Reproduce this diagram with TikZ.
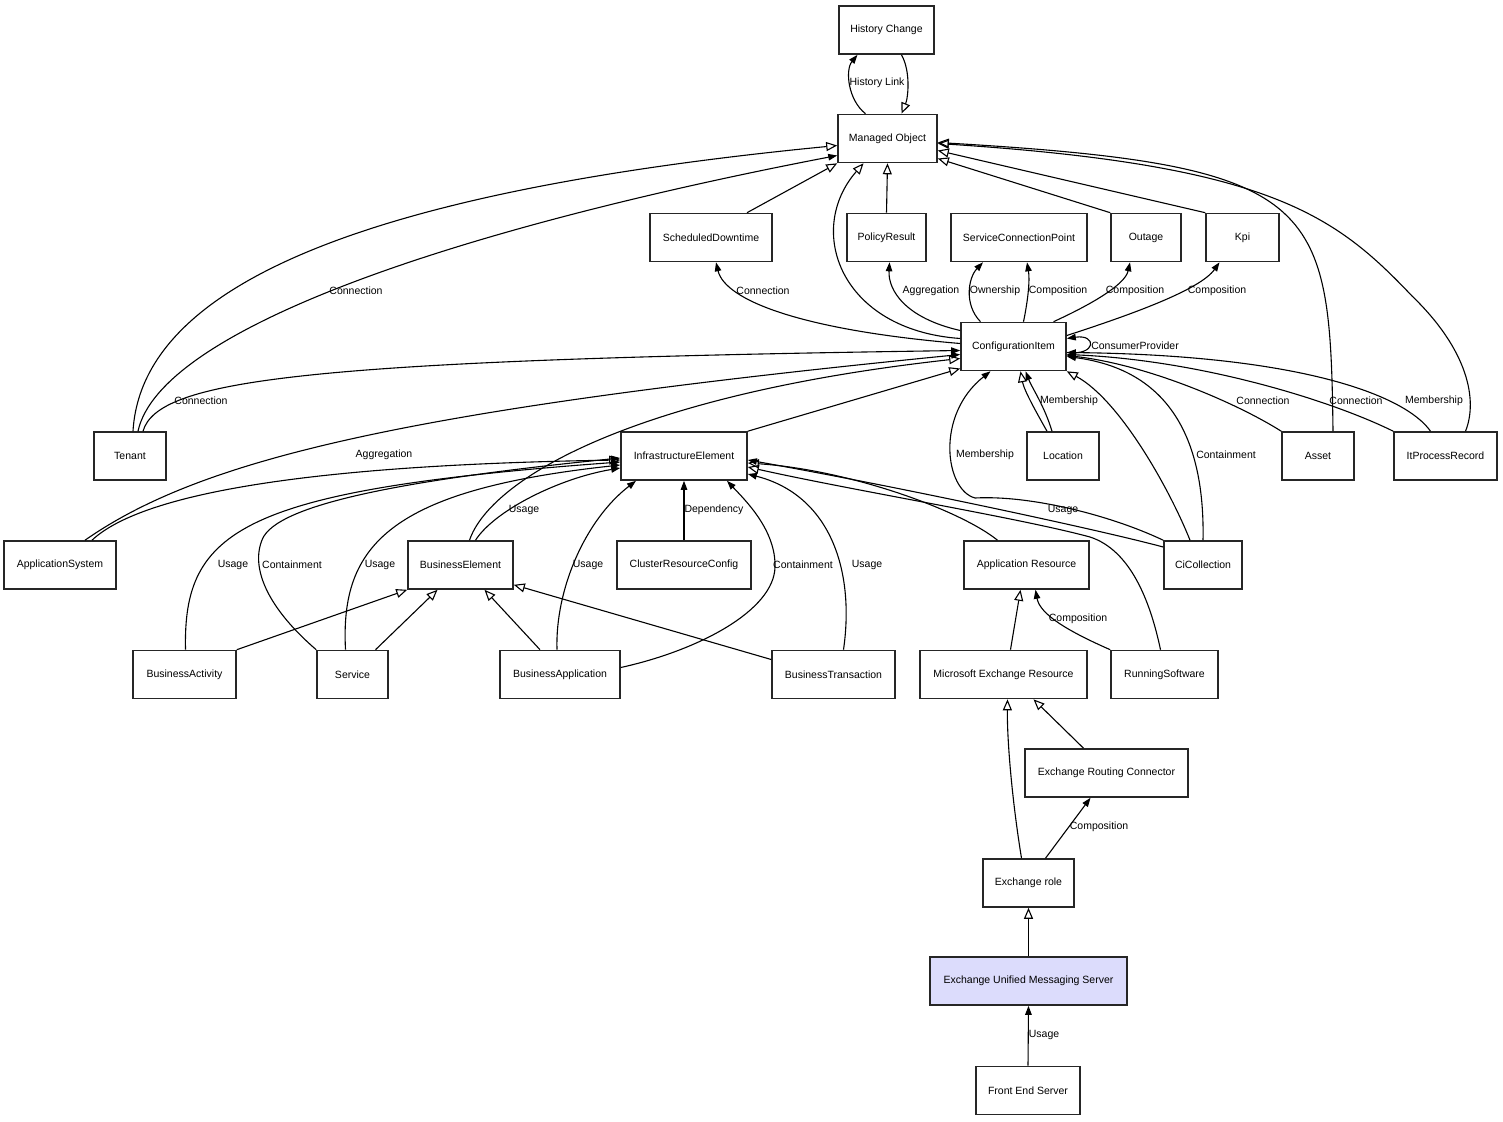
\documentclass[tikz,border=0pt]{standalone}
\usepackage{fontspec}
\setmainfont{Liberation Sans}
\usetikzlibrary{arrows.meta}
\definecolor{umsblue}{RGB}{220,220,252}
\tikzset{
    mynode/.style = {rectangle, line width=1.6pt, draw=black!85, align=center, fill=white, minimum height=48pt, inner xsep=3pt, font=\fontsize{10.5}{12}\selectfont, text=black},
    mynodeb/.style = {mynode, fill=umsblue},
    edgea/.style = {-{Triangle[length=9pt,width=6.5pt]}, line width=1.1pt, black}, % association
    edgei/.style = {-{Triangle[open,length=11pt,width=9pt]}, line width=1.1pt, black}, % inheritance
    edgel/.style = {inner sep=0pt, font=\fontsize{10.5}{12}\selectfont, text=black}
}
\begin{document}
\begin{tikzpicture}[x=1pt, y=-1pt]
  \path[use as bounding box, fill=white] (0,0) rectangle (1503,1121);
  % classes
  \node[mynode, minimum width=95pt] (hc) at (886.5,30) {History Change};
  \node[mynode, minimum width=99pt] (mo) at (887.5,138.5) {Managed Object};
  \node[mynode, minimum width=122pt] (sd) at (711,237.5) {ScheduledDowntime};
  \node[mynode, minimum width=79pt] (pr) at (886.5,237.5) {PolicyResult};
  \node[mynode, minimum width=136pt] (scp) at (1019,237.5) {ServiceConnectionPoint};
  \node[mynode, minimum width=70pt] (outage) at (1146,237.5) {Outage};
  \node[mynode, minimum width=73pt] (kpi) at (1242.5,237.5) {Kpi};
  \node[mynode, minimum width=105pt] (ci) at (1013.5,346.5) {ConfigurationItem};
  \node[mynode, minimum width=72pt] (tenant) at (130,456) {Tenant};
  \node[mynode, minimum width=126pt] (ie) at (684,456) {InfrastructureElement};
  \node[mynode, minimum width=72pt] (loc) at (1063,456) {Location};
  \node[mynode, minimum width=72pt] (asset) at (1318,456) {Asset};
  \node[mynode, minimum width=103pt] (ipr) at (1445.5,456) {ItProcessRecord};
  \node[mynode, minimum width=112pt] (appsys) at (60,565) {ApplicationSystem};
  \node[mynode, minimum width=105pt] (be) at (460.5,565) {BusinessElement};
  \node[mynode, minimum width=134pt] (crc) at (684,565) {ClusterResourceConfig};
  \node[mynode, minimum width=125pt] (ar) at (1026.5,565) {Application Resource};
  \node[mynode, minimum width=78pt] (cic) at (1203,565) {CiCollection};
  \node[mynode, minimum width=103pt] (bact) at (184.5,674.5) {BusinessActivity};
  \node[mynode, minimum width=71pt] (svc) at (352.5,674.5) {Service};
  \node[mynode, minimum width=120pt] (bapp) at (560,674.5) {BusinessApplication};
  \node[mynode, minimum width=123pt] (btr) at (833.5,674.5) {BusinessTransaction};
  \node[mynode, minimum width=167pt] (mer) at (1003.5,674.5) {Microsoft Exchange Resource};
  \node[mynode, minimum width=107pt] (rsw) at (1164.5,674.5) {RunningSoftware};
  \node[mynode, minimum width=163pt] (erc) at (1106.5,773) {Exchange Routing Connector};
  \node[mynode, minimum width=91pt] (erole) at (1028.5,883) {Exchange role};
  \node[mynodeb, minimum width=197pt] (ums) at (1028.5,981) {Exchange Unified Messaging Server};
  \node[mynode, minimum width=104pt] (fes) at (1028,1090.5) {Front End Server};

  % top
  \draw[edgea] ([xshift=-22]mo.north) .. controls (848,100) and (845,70) .. ([xshift=-29]hc.south)
    node[edgel] at (877,83) {History Link};
  \draw[edgei] ([xshift=15]hc.south) .. controls (911,72) and (908,98) .. ([xshift=14]mo.north);
  \draw[edgei] ([xshift=3]tenant.north) .. controls (142,280) and (380,190) .. ([yshift=-7]mo.west);
  \draw[edgea] ([xshift=8]tenant.north) .. controls (160,330) and (450,230) .. ([yshift=-17]mo.west)
    node[edgel] at (356,291) {Connection};
  \draw[edgei] ([xshift=36]sd.north) -- (mo.south west);
  \draw[edgei] ([yshift=8]ci.west) .. controls (840,330) and (805,230) .. ([xshift=-24]mo.south);
  \draw[edgei] (pr.north) -- (mo.south);
  \draw[edgei] (outage.north west) -- ([yshift=-20]mo.east);
  \draw[edgei] (kpi.north west) -- ([yshift=-12]mo.east);
  \draw[edgei] ([xshift=15]asset.north) .. controls (1330,200) and (1320,165) .. ([yshift=-4]mo.east);
  \draw[edgei] ([xshift=20]ipr.north) .. controls (1478,400) and (1468,350) .. (1412,296)
    .. controls (1335,215) and (1270,165) .. ([yshift=-5]mo.east);

  % ConfigurationItem out
  \draw[edgea] ([yshift=3]ci.west) .. controls (800,330) and (725,300) .. ([xshift=5]sd.south)
    node[edgel] at (763,291) {Connection};
  \draw[edgea] ([yshift=16]ci.west) .. controls (905,318) and (888,290) .. ([xshift=3]pr.south)
    node[edgel] at (931,291) {Aggregation};
  \draw[edgea] ([xshift=-33]ci.north) .. controls (964,305) and (968,278) .. ([xshift=-36]scp.south)
    node[edgel] at (995,291) {Ownership};
  \draw[edgea] ([xshift=10]ci.north) .. controls (1028,300) and (1030,280) .. ([xshift=8]scp.south)
    node[edgel] at (1058,291) {Composition};
  \draw[edgea] ([xshift=40]ci.north) .. controls (1090,305) and (1125,285) .. ([xshift=-16]outage.south)
    node[edgel] at (1135,291) {Composition};
  \draw[edgea] ([yshift=11]ci.east) .. controls (1130,315) and (1200,290) .. ([xshift=-23]kpi.south)
    node[edgel] at (1217,291) {Composition};
  \draw[edgea] ([yshift=-6]ci.east) .. controls (1097,356) and (1097,334) .. ([yshift=8]ci.east)
    node[edgel] at (1135,346) {ConsumerProvider};

  % ConfigurationItem in
  \draw[edgea] ([xshift=13]tenant.north) .. controls (158,380) and (300,360) .. ([yshift=-4]ci.west)
    node[edgel] at (201,401) {Connection};
  \draw[edgea] ([xshift=25]appsys.north) .. controls (200,460) and (400,410) .. ([yshift=-8]ci.west)
    node[edgel] at (384,455) {Aggregation};
  \draw[edgei] ([xshift=9]be.north) .. controls (490,480) and (630,395) .. ([yshift=-12]ci.west);
  \draw[edgei] (ie.north east) -- ([yshift=-22]ci.west);
  \draw[edgei] ([xshift=-16]loc.north) .. controls (1035,410) and (1024,390) .. ([xshift=7]ci.south);
  \draw[edgea] ([xshift=-11]loc.north) .. controls (1044,405) and (1032,388) .. ([xshift=12]ci.south)
    node[edgel] at (1069,401) {Membership};
  \draw[edgea] (asset.north west) .. controls (1240,405) and (1150,365) .. ([yshift=-9]ci.east)
    node[edgel] at (1263,401) {Connection};
  \draw[edgea] (ipr.north west) .. controls (1330,400) and (1200,360) .. ([yshift=-8]ci.east)
    node[edgel] at (1356,401) {Connection};
  \draw[edgea] ([xshift=-15]ipr.north) .. controls (1405,395) and (1300,355) .. ([yshift=-6]ci.east)
    node[edgel] at (1434,401) {Membership};
  \draw[edgea] (cic.north west) .. controls (1110,515) and (1030,495) .. (975,498)
    .. controls (945,490) and (935,415) .. ([xshift=-23]ci.south)
    node[edgel] at (985,455) {Membership};
  \draw[edgei] ([xshift=-13]cic.north) .. controls (1170,490) and (1120,400) .. (ci.south east);
  \draw[edgea] (cic.north) .. controls (1205,440) and (1170,370) .. ([yshift=-10]ci.east)
    node[edgel] at (1226,455) {Containment};

  % InfrastructureElement in
  \draw[edgei] ([xshift=32]appsys.north) .. controls (140,495) and (300,465) .. ([yshift=-4]ie.west);
  \draw[edgea] ([xshift=15]be.north) .. controls (495,510) and (560,478) .. ([yshift=-12]ie.west)
    node[edgel] at (524,510) {Usage};
  \draw[edgea] ([xshift=1]bact.north) .. controls (183,530) and (240,490) .. ([yshift=-6]ie.west)
    node[edgel] at (233,565) {Usage};
  \draw[edgea] (svc.north west) .. controls (270,610) and (250,570) .. (262,540)
    .. controls (275,505) and (400,480) .. ([yshift=-2]ie.west)
    node[edgel] at (292,565) {Containment};
  \draw[edgea] ([xshift=-7]svc.north) .. controls (340,545) and (390,490) .. ([yshift=-9]ie.west)
    node[edgel] at (380,565) {Usage};
  \draw[edgea] ([xshift=-3]bapp.north) .. controls (555,590) and (585,520) .. ([xshift=-48]ie.south)
    node[edgel] at (588,565) {Usage};
  \draw[edgea] ([yshift=7]bapp.east) .. controls (700,650) and (774,610) .. (775,567)
    .. controls (776,530) and (745,500) .. ([xshift=43]ie.south)
    node[edgel] at (803,565) {Containment};
  \draw[edgea] (crc.north) -- (ie.south)
    node[edgel] at (714,510) {Dependency};
  \draw[edgea] ([xshift=10]btr.north) .. controls (855,570) and (830,495) .. ([yshift=-18]ie.east)
    node[edgel] at (867,565) {Usage};
  \draw[edgei] ([xshift=-29]ar.north) .. controls (960,510) and (850,470) .. ([yshift=-7]ie.east);
  \draw[edgei] ([xshift=-4]rsw.north) .. controls (1150,600) and (1130,550) .. (1090,537)
    .. controls (1020,518) and (850,490) .. ([yshift=-11]ie.east);
  \draw[edgea] ([yshift=18]cic.west) .. controls (1100,530) and (900,487) .. ([yshift=-4]ie.east)
    node[edgel] at (1063,510) {Usage};

  % BusinessElement in
  \draw[edgei] (bact.north east) -- (be.south west);
  \draw[edgei] ([xshift=23]svc.north) -- ([xshift=-23]be.south);
  \draw[edgei] ([xshift=-20]bapp.north) -- ([xshift=24]be.south);
  \draw[edgei] ([yshift=15]btr.west) -- ([yshift=5]be.south east);

  % exchange
  \draw[edgea] (rsw.north west) .. controls (1070,632) and (1040,615) .. ([xshift=9]ar.south)
    node[edgel] at (1078,619) {Composition};
  \draw[edgei] ([xshift=7]mer.north) -- ([xshift=-6]ar.south);
  \draw[edgei] ([xshift=-7]erole.north) .. controls (1012,800) and (1007,740) .. ([xshift=4]mer.south);
  \draw[edgei] ([xshift=-23]erc.north) -- ([xshift=30]mer.south);
  \draw[edgea] ([xshift=17]erole.north) -- ([xshift=-16]erc.south)
    node[edgel] at (1099,827) {Composition};
  \draw[edgei] (ums.north) -- (erole.south);
  \draw[edgea] (fes.north) -- (ums.south)
    node[edgel] at (1044,1035) {Usage};
\end{tikzpicture}
\end{document}
